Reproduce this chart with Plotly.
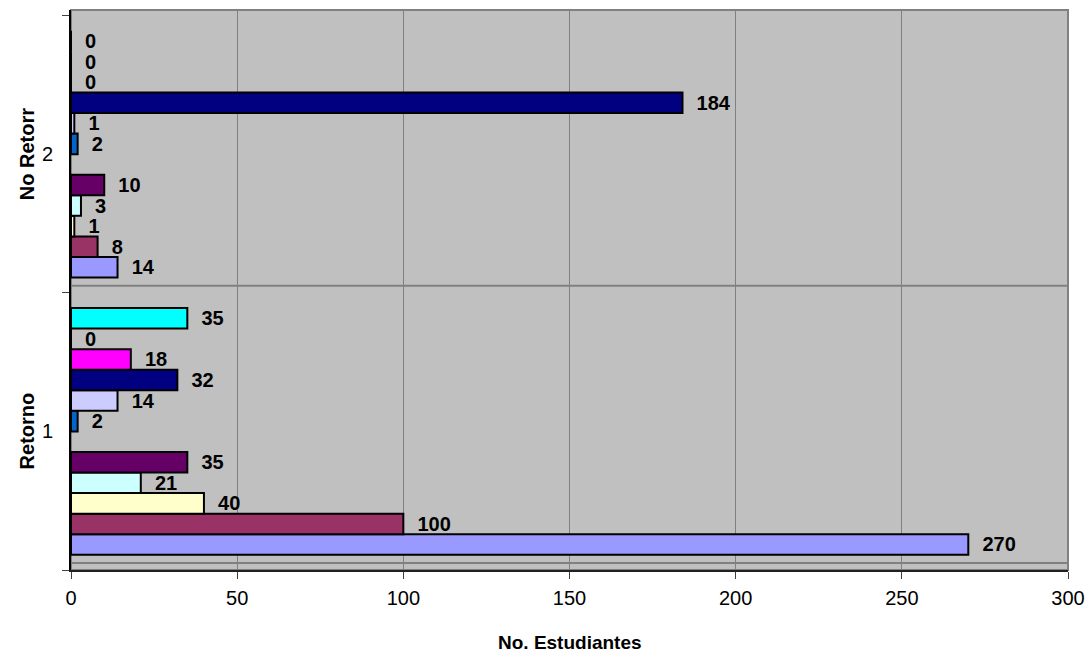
import plotly.graph_objects as go

categories = ["1", "2"]
group_titles = ["Retorno", "No Retorr"]

s1 = [270, 14]
s2 = [100, 8]
s3 = [40, 1]
s4 = [21, 3]
s5 = [35, 10]
s6 = [None, None]
s7 = [2, 2]
s8 = [14, 1]
s9 = [32, 184]
s10 = [18, 0]
s11 = [0, 0]
s12 = [35, 0]

series = [s1, s2, s3, s4, s5, s6, s7, s8, s9, s10, s11, s12]
colors = ["#9999FF", "#993366", "#FFFFCC", "#CCFFFF", "#660066", "#FF8080",
          "#0066CC", "#CCCCFF", "#000080", "#FF00FF", "#FFFF00", "#00FFFF"]

x_ticks = [0, 50, 100, 150, 200, 250, 300]
x_title = "No. Estudiantes"

FONT = "Arial, Liberation Sans, sans-serif"

fig = go.Figure()
for i, (vals, col) in enumerate(zip(series, colors)):
    fig.add_trace(go.Bar(
        y=categories, x=vals, orientation="h", name=f"Serie {i+1}",
        marker=dict(color=col, line=dict(color="black", width=2)),
        texttemplate="  %{x}", textposition="outside", constraintext="none",
        cliponaxis=False,
        textfont=dict(family=FONT, size=20, color="black", weight="bold"),
    ))

fig.update_layout(
    width=1091, height=656,
    barmode="group", bargap=0.11, bargroupgap=0,
    plot_bgcolor="#C0C0C0", paper_bgcolor="white",
    margin=dict(l=71, r=23, t=10, b=86, autoexpand=False),
    showlegend=False,
    font=dict(family=FONT, size=20, color="black"),
    xaxis=dict(range=[0, 300], tickvals=x_ticks, showgrid=True, gridcolor="#808080",
               gridwidth=1, zeroline=False, showline=True, linecolor="#202020", linewidth=2,
               ticks="outside", ticklen=7, tickcolor="#404040", automargin=False,
               ticklabelstandoff=2, ticklabeloverflow="allow",
               tickfont=dict(family=FONT, size=20)),
    yaxis=dict(type="category", categoryorder="array", categoryarray=categories,
               range=[-0.5, 1.52], automargin=False,
               tickson="boundaries", showgrid=False,
               showline=True, linecolor="black", linewidth=2,
               ticks="outside", ticklen=7, tickcolor="#404040",
               ticklabelstandoff=12,
               tickfont=dict(family=FONT, size=20)),
)

fig.add_shape(type="rect", xref="paper", yref="paper", x0=0, x1=1, y0=0, y1=1,
              line=dict(color="#808080", width=2), layer="below")

# category boundary gridlines (drawn slightly above the boundary ticks, as in the source)
for b in [-0.5, 0.5]:
    fig.add_shape(type="line", xref="paper", x0=0, x1=1, yref="y", ysizemode="pixel",
                  yanchor=b, y0=7, y1=7, line=dict(color="#808080", width=2), layer="below")

for idx, t in enumerate(group_titles):
    fig.add_annotation(x=0, xref="paper", xshift=-44, xanchor="center",
                       y=idx, yref="y", yanchor="middle",
                       text="<b>" + t + "</b>", textangle=-90, showarrow=False,
                       font=dict(family=FONT, size=20, color="black"))

fig.add_annotation(x=0.5, xref="paper", y=0, yref="paper", yshift=-72,
                   xanchor="center", yanchor="middle",
                   text="<b>" + x_title + "</b>", showarrow=False,
                   font=dict(family=FONT, size=19, color="black"))

fig.write_html("out.html", config={"displayModeBar": False},
               post_script="document.body.style.margin='0px';document.body.style.overflow='hidden';")
